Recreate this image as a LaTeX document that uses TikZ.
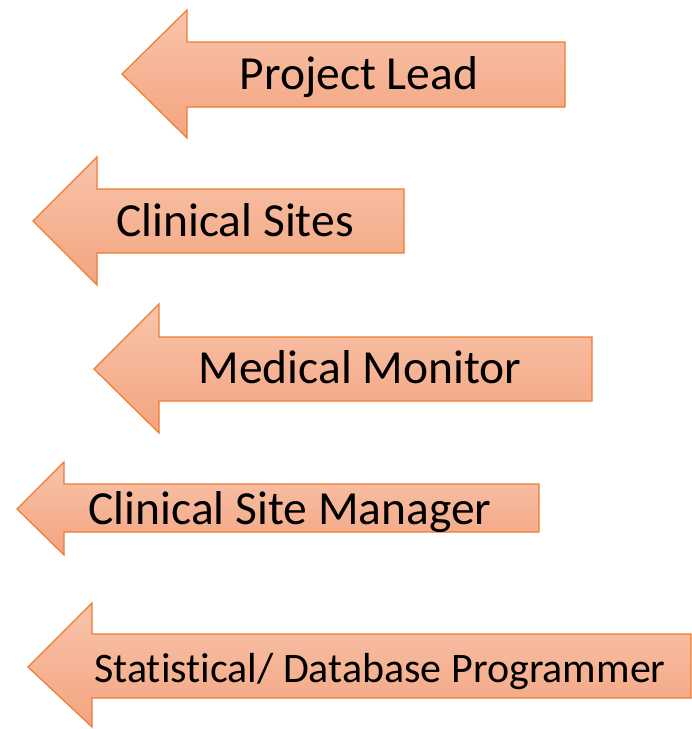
\documentclass[tikz,border=0pt]{standalone}
\usepackage{fontspec}
\setmainfont{Carlito}[Ligatures=NoCommon]
\usetikzlibrary{positioning}
\definecolor{rolelight}{RGB}{248,196,170}
\definecolor{roledark}{RGB}{244,164,128}
\definecolor{roleline}{RGB}{237,125,49}
\tikzstyle{rolearrow} = [draw=roleline, line width=1.2pt, top color=rolelight,
bottom color=roledark, line join=miter]
\tikzstyle{role} = [anchor=base, inner sep=0pt, font=\fontsize{47.5}{56}\selectfont]

\begin{document}
\begin{tikzpicture} [x=1pt, y=-1pt]
  \useasboundingbox (0,0) rectangle (692,729);

  \draw[rolearrow] (122,74) -- (187,10) -- (187,42) -- (565,42) -- (565,107)
  -- (187,107) -- (187,138) -- cycle;
  \node (lead) [role] at (359,89) {Project Lead};

  \draw[rolearrow] (33,221) -- (97,157) -- (97,189) -- (404,189) -- (404,253)
  -- (97,253) -- (97,285) -- cycle;
  \node (sites) [role] at (235,236) {Clinical Sites};

  \draw[rolearrow] (94,369) -- (159,304) -- (159,337) -- (592,337) -- (592,401)
  -- (159,401) -- (159,433) -- cycle;
  \node (monitor) [role] at (360,383) {Medical Monitor};

  \draw[rolearrow] (17,509) -- (64,462) -- (64,484) -- (539,484) -- (539,532)
  -- (64,532) -- (64,555) -- cycle;
  \node (manager) [role] at (290,524) {Clinical Site Manager};

  \draw[rolearrow] (28,667) -- (92,603) -- (92,634) -- (691,634) -- (691,698)
  -- (92,698) -- (92,727) -- cycle;
  \node (programmer) [role, font=\fontsize{42}{50}\selectfont] at (380,682)
  {Statistical/ Database Programmer};
\end{tikzpicture}
\end{document}
